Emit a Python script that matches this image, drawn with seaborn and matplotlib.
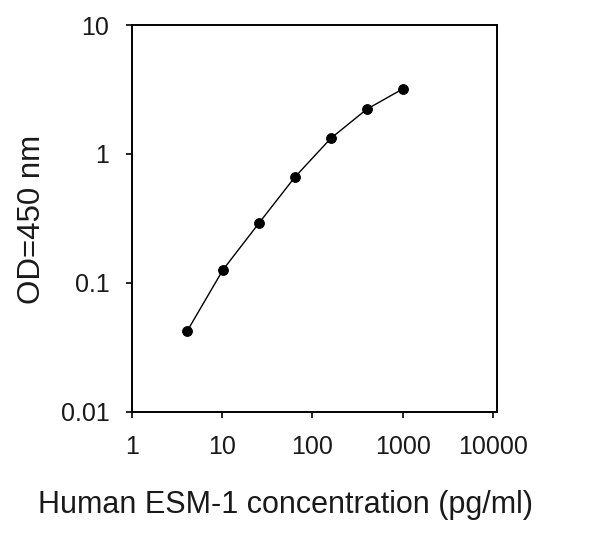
import matplotlib
matplotlib.use("Agg")
import matplotlib.pyplot as plt
import seaborn as sns
import pandas as pd

# Data
concentration = [4.096, 10.24, 25.6, 64, 160, 400, 1000]
od450 = [0.042, 0.126, 0.29, 0.66, 1.32, 2.22, 3.19]

x_ticks = [1, 10, 100, 1000, 10000]
x_tick_labels = ["1", "10", "100", "1000", "10000"]
y_ticks = [0.01, 0.1, 1, 10]
y_tick_labels = ["0.01", "0.1", "1", "10"]

x_label = "Human ESM-1 concentration (pg/ml)"
y_label = "OD=450 nm"

df = pd.DataFrame({"conc": concentration, "od": od450})

sns.set_theme(style="ticks")
plt.rcParams["font.family"] = ["Liberation Sans", "DejaVu Sans"]

fig = plt.figure(figsize=(5.97, 5.35), dpi=100)
ax = fig.add_axes([131.7 / 597, 1 - 411.7 / 535, (496.7 - 131.7) / 597, (411.7 - 25) / 535])

sns.lineplot(data=df, x="conc", y="od", ax=ax, color="black", linewidth=1.0,
             marker="o", markersize=7, markeredgecolor="black",
             markerfacecolor="black")

ax.set_xscale("log")
ax.set_yscale("log")
ax.set_xlim(1, 10990)
ax.set_ylim(0.01, 10)
ax.minorticks_off()
ax.set_xticks(x_ticks)
ax.set_xticklabels(x_tick_labels)
ax.set_yticks(y_ticks)
ax.set_yticklabels(y_tick_labels)
ax.minorticks_off()

for s in ax.spines.values():
    s.set_visible(True)
    s.set_color("black")
    s.set_linewidth(1.4)

ax.tick_params(axis="both", which="major", direction="out", length=4.5,
               width=1.2, color="black", labelsize=18, labelcolor="#1a1a1a")
ax.tick_params(axis="x", pad=12)
ax.tick_params(axis="y", pad=11.5)

ax.set_xlabel("")
ax.set_ylabel("")

fig.text(285 / 597, 1 - 513 / 535, x_label, ha="center", va="baseline",
         fontsize=22, color="#1a1a1a")
fig.text(31.7 / 597, 1 - 219 / 535, y_label, ha="center", va="center",
         rotation=90, fontsize=22.5, color="#1a1a1a")

fig.savefig("out.png", dpi=100, facecolor="white")
